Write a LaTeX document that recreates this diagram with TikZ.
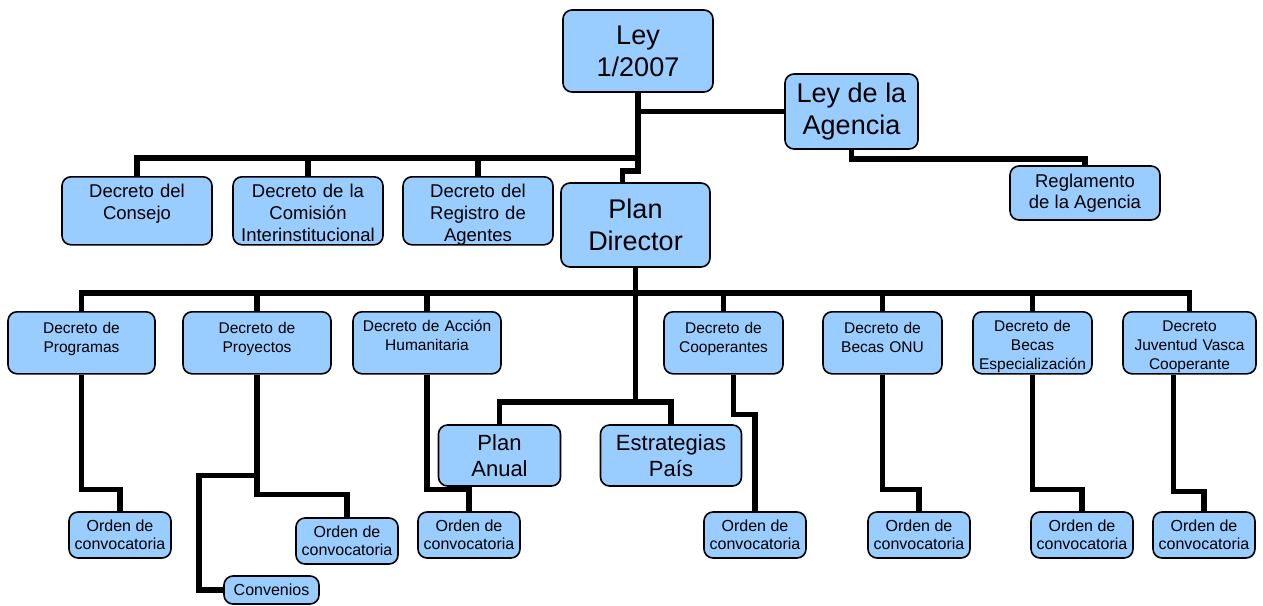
\documentclass[tikz,border=0pt]{standalone}
\usepackage{fontspec}
\setmainfont{Liberation Sans}
\definecolor{cajazul}{HTML}{99CCFF}
\tikzset{
  caja/.style={draw, line width=1.6pt, fill=cajazul, rounded corners=9pt, inner sep=0pt, align=center},
  grande/.style={caja, font=\fontsize{27}{32}\selectfont},
  media/.style={caja, font=\fontsize{22}{26}\selectfont},
  decdos/.style={caja, anchor=north, text width=150pt, text height=20.5pt, text depth=47.5pt, font=\fontsize{18.5}{22}\selectfont},
  dectres/.style={caja, anchor=north, text height=22pt, text depth=40pt, font=\fontsize{15.5}{19}\selectfont},
  treslineas/.style={text height=19.5pt, text depth=42.5pt},
  orden/.style={caja, minimum width=102pt, minimum height=46pt, font=\fontsize{16}{18}\selectfont},
  linea/.style={line width=5.5pt}
}
\begin{document}
\begin{tikzpicture}[x=1pt,y=-1pt]
\useasboundingbox (0,0) rectangle (1263,605);

\node[grande, minimum width=150pt, minimum height=82pt] (ley) at (638,51) {Ley\\1/2007};
\node[grande, minimum width=133pt, minimum height=75pt] (agencia) at (851.5,111.5) {Ley de la\\Agencia};
\node[caja, minimum width=150pt, minimum height=54pt, font=\fontsize{18.5}{21.5}\selectfont] (reglamento) at (1085,193) {Reglamento\\de la Agencia};

\node[decdos] (consejo) at (137,176) {Decreto del\\Consejo};
\node[decdos] (comision) at (308,176) {Decreto de la\\Comisión\\Interinstitucional};
\node[decdos] (registro) at (478,176) {Decreto del\\Registro de\\Agentes};
\node[grande, minimum width=149pt, minimum height=84pt] (plan) at (635.5,225) {Plan\\Director};

\node[dectres, text width=147pt] (programas) at (81.5,311) {Decreto de\\Programas};
\node[dectres, text width=148pt] (proyectos) at (257,311) {Decreto de\\Proyectos};
\node[dectres, treslineas, text width=148pt] (accion) at (427,311) {Decreto de Acción\\Humanitaria};
\node[dectres, text width=119pt] (cooperantes) at (723.5,311) {Decreto de\\Cooperantes};
\node[dectres, text width=119pt] (becasonu) at (882.5,311) {Decreto de\\Becas ONU};
\node[dectres, treslineas, text width=119pt] (especial) at (1032.5,311) {Decreto de\\Becas\\Especialización};
\node[dectres, treslineas, text width=133pt] (juventud) at (1189.5,311) {Decreto\\Juventud Vasca\\Cooperante};

\node[media, minimum width=122pt, minimum height=61pt] (anual) at (499.5,455.5) {Plan\\Anual};
\node[media, minimum width=141pt, minimum height=61pt] (estrategias) at (671,455.5) {Estrategias\\País};

\node[orden] (ordprog) at (120,535) {Orden de\\convocatoria};
\node[orden] (ordproy) at (347,541) {Orden de\\convocatoria};
\node[orden] (ordacc) at (469,535) {Orden de\\convocatoria};
\node[orden] (ordcoop) at (755,535) {Orden de\\convocatoria};
\node[orden] (ordonu) at (919,535) {Orden de\\convocatoria};
\node[orden] (ordesp) at (1082,535) {Orden de\\convocatoria};
\node[orden] (ordjuv) at (1204,535) {Orden de\\convocatoria};
\node[caja, minimum width=95pt, minimum height=28pt, font=\fontsize{16}{18}\selectfont] (convenios) at (271.5,590) {Convenios};

\coordinate (busA) at (638,158);
\coordinate (busB) at (636,293);
\coordinate (busC) at (636,402);

\draw[linea] (ley.south) -- ++(0,78) -| ([xshift=-13pt]plan.north);
\draw[linea] (ley.south |- agencia.west) -- (agencia.west);
\draw[linea] (agencia.south) -- ++(0,9) -| (reglamento.north);
\draw[linea] (consejo.north) |- (busA);
\draw[linea] (comision.north) -- (comision.north |- busA);
\draw[linea] (registro.north) -- (registro.north |- busA);

\draw[linea] (plan.south) -- (plan.south |- busC);
\draw[linea] (programas.north) |- (juventud.north |- busB) -- (juventud.north);
\foreach \d in {proyectos,accion,cooperantes,becasonu,especial}
  \draw[linea] (\d.north) -- (\d.north |- busB);
\draw[linea] (anual.north) |- (estrategias.north |- busC) -- (estrategias.north);

\draw[linea] (programas.south) -- ++(0,115) -| (ordprog.north);
\draw[linea] (proyectos.south) -- ++(0,120) -| (ordproy.north);
\draw[linea] ([yshift=-101pt]proyectos.south) -| ([xshift=-24pt]convenios.west) -- (convenios.west);
\draw[linea] (accion.south) -- ++(0,115) -| (ordacc.north);
\draw[linea] ([xshift=10pt]cooperantes.south) -- ++(0,40) -| (ordcoop.north);
\draw[linea] (becasonu.south) -- ++(0,115) -| (ordonu.north);
\draw[linea] (especial.south) -- ++(0,115) -| (ordesp.north);
\draw[linea] ([xshift=-16pt]juventud.south) -- ++(0,117) -| (ordjuv.north);
\end{tikzpicture}
\end{document}
